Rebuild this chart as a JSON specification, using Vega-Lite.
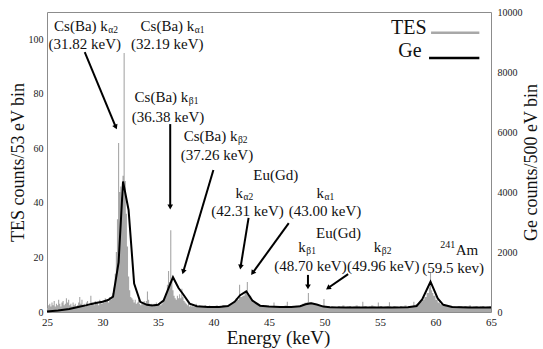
{
  "$schema": "https://vega.github.io/schema/vega-lite/v6.json",
  "width": 444,
  "height": 300,
  "autosize": {"type": "none"},
  "padding": {"left": 47, "top": 12, "right": 52, "bottom": 37},
  "background": "white",
  "config": {
    "font": "Liberation Serif",
    "view": {"stroke": "#8c8c8c", "strokeWidth": 1},
    "axis": {"grid": false, "domain": false, "ticks": false, "labelColor": "#1a1a1a", "titleColor": "#111111", "titleFontWeight": "normal", "labelFlush": false, "labelFont": "Liberation Serif", "titleFont": "Liberation Serif"},
    "text": {"font": "Liberation Serif", "color": "#111111"}
  },
  "datasets": {
    "tes": [
      {"e":25.0,"v":1.5},{"e":25.1,"v":2.5},{"e":25.2,"v":3.0},{"e":25.3,"v":2.0},{"e":25.4,"v":3.5},{"e":25.5,"v":2.5},{"e":25.6,"v":4.0},{"e":25.7,"v":2.0},{"e":25.8,"v":3.0},{"e":25.9,"v":2.5},
      {"e":26.0,"v":4.5},{"e":26.1,"v":3.0},{"e":26.2,"v":2.0},{"e":26.3,"v":3.5},{"e":26.4,"v":4.0},{"e":26.5,"v":2.5},{"e":26.6,"v":3.0},{"e":26.7,"v":5.0},{"e":26.8,"v":3.5},{"e":26.9,"v":4.5},
      {"e":27.0,"v":2.5},{"e":27.1,"v":3.0},{"e":27.2,"v":2.0},{"e":27.3,"v":3.5},{"e":27.4,"v":2.5},{"e":27.5,"v":3.0},{"e":27.6,"v":2.0},{"e":27.7,"v":2.5},{"e":27.8,"v":3.5},{"e":27.9,"v":5.5},
      {"e":28.0,"v":3.0},{"e":28.1,"v":4.5},{"e":28.2,"v":2.5},{"e":28.3,"v":3.0},{"e":28.4,"v":2.0},{"e":28.5,"v":3.5},{"e":28.6,"v":4.0},{"e":28.7,"v":2.5},{"e":28.8,"v":3.0},{"e":28.9,"v":6.0},
      {"e":29.0,"v":3.5},{"e":29.1,"v":3.0},{"e":29.2,"v":2.5},{"e":29.3,"v":4.0},{"e":29.4,"v":3.0},{"e":29.5,"v":3.5},{"e":29.6,"v":2.5},{"e":29.7,"v":4.5},{"e":29.8,"v":3.5},{"e":29.9,"v":3.0},
      {"e":30.0,"v":4.0},{"e":30.1,"v":3.5},{"e":30.2,"v":5.0},{"e":30.3,"v":4.0},{"e":30.4,"v":4.5},{"e":30.5,"v":3.5},{"e":30.6,"v":5.5},{"e":30.7,"v":4.5},{"e":30.8,"v":6.0},{"e":30.9,"v":7.0},
      {"e":31.0,"v":9},{"e":31.1,"v":14},{"e":31.2,"v":22},{"e":31.3,"v":34},{"e":31.4,"v":62},{"e":31.5,"v":44},{"e":31.6,"v":46},{"e":31.7,"v":42},{"e":31.8,"v":50},{"e":31.9,"v":95},
      {"e":32.0,"v":48},{"e":32.1,"v":36},{"e":32.2,"v":24},{"e":32.3,"v":13},{"e":32.4,"v":8},{"e":32.5,"v":5.5},{"e":32.6,"v":5},{"e":32.7,"v":4.5},{"e":32.8,"v":3.5},{"e":32.9,"v":4.5},
      {"e":33.0,"v":3.0},{"e":33.1,"v":3.5},{"e":33.2,"v":4.5},{"e":33.3,"v":3.0},{"e":33.4,"v":2.5},{"e":33.5,"v":3.5},{"e":33.6,"v":3.0},{"e":33.7,"v":4.0},{"e":33.8,"v":3.0},{"e":33.9,"v":4.0},
      {"e":34.0,"v":7.5},{"e":34.1,"v":4.5},{"e":34.2,"v":3.0},{"e":34.3,"v":2.5},{"e":34.4,"v":3.0},{"e":34.5,"v":2.0},{"e":34.6,"v":3.0},{"e":34.7,"v":2.5},{"e":34.8,"v":3.5},{"e":34.9,"v":2.5},
      {"e":35.0,"v":3.0},{"e":35.1,"v":3.5},{"e":35.2,"v":2.5},{"e":35.3,"v":3.0},{"e":35.4,"v":4.0},{"e":35.5,"v":4.5},{"e":35.6,"v":5.5},{"e":35.7,"v":7},{"e":35.8,"v":10},{"e":35.9,"v":15},
      {"e":36.0,"v":11},{"e":36.1,"v":30},{"e":36.2,"v":12},{"e":36.3,"v":8},{"e":36.4,"v":6},{"e":36.5,"v":5},{"e":36.6,"v":4.5},{"e":36.7,"v":6},{"e":36.8,"v":5},{"e":36.9,"v":6.5},
      {"e":37.0,"v":5},{"e":37.1,"v":8.5},{"e":37.2,"v":5.5},{"e":37.3,"v":4},{"e":37.4,"v":3.5},{"e":37.5,"v":3},{"e":37.6,"v":2.5},{"e":37.7,"v":3},{"e":37.8,"v":2},{"e":37.9,"v":2.5},
      {"e":38.0,"v":2},{"e":38.1,"v":2.5},{"e":38.2,"v":1.8},{"e":38.3,"v":2.2},{"e":38.4,"v":3},{"e":38.5,"v":2},{"e":38.6,"v":1.8},{"e":38.7,"v":2.5},{"e":38.8,"v":2},{"e":38.9,"v":1.8},
      {"e":39.0,"v":2.2},{"e":39.1,"v":2},{"e":39.2,"v":2.6},{"e":39.3,"v":1.8},{"e":39.4,"v":2.2},{"e":39.5,"v":1.8},{"e":39.6,"v":2.4},{"e":39.7,"v":2},{"e":39.8,"v":1.8},{"e":39.9,"v":2.2},
      {"e":40.0,"v":2.0},{"e":40.2,"v":2.4},{"e":40.4,"v":1.8},{"e":40.6,"v":2.2},{"e":40.8,"v":2.6},{"e":41.0,"v":2.0},{"e":41.2,"v":2.4},{"e":41.4,"v":2.8},{"e":41.6,"v":3.2},{"e":41.8,"v":4.0},
      {"e":42.0,"v":5.0},{"e":42.2,"v":4.5},{"e":42.3,"v":10},{"e":42.4,"v":5.5},{"e":42.6,"v":6},{"e":42.8,"v":7},{"e":43.0,"v":11},{"e":43.1,"v":7},{"e":43.2,"v":6},{"e":43.4,"v":4.5},
      {"e":43.6,"v":3.5},{"e":43.8,"v":3},{"e":44.0,"v":2.5},{"e":44.2,"v":2.2},{"e":44.4,"v":2.0},{"e":44.6,"v":2.4},{"e":44.8,"v":1.8},{"e":45.0,"v":2.2},{"e":45.2,"v":2.0},{"e":45.4,"v":3.5},
      {"e":45.5,"v":2.2},{"e":45.6,"v":2.0},{"e":45.8,"v":1.8},{"e":46.0,"v":2.2},{"e":46.2,"v":2.0},{"e":46.4,"v":2.4},{"e":46.6,"v":3.8},{"e":46.7,"v":2.2},{"e":46.8,"v":2.0},{"e":47.0,"v":1.8},
      {"e":47.2,"v":2.2},{"e":47.4,"v":2.0},{"e":47.6,"v":2.4},{"e":47.8,"v":2.6},{"e":48.0,"v":3.0},{"e":48.2,"v":3.4},{"e":48.4,"v":3.6},{"e":48.5,"v":7},{"e":48.6,"v":3.6},{"e":48.8,"v":3.4},
      {"e":49.0,"v":3.0},{"e":49.2,"v":2.6},{"e":49.4,"v":2.4},{"e":49.6,"v":2.2},{"e":49.8,"v":2.4},{"e":49.9,"v":4.8},{"e":50.0,"v":2.2},{"e":50.2,"v":2.0},{"e":50.4,"v":1.8},{"e":50.6,"v":2.2},
      {"e":50.8,"v":2.0},{"e":51.0,"v":1.8},{"e":51.2,"v":2.2},{"e":51.4,"v":2.0},{"e":51.6,"v":2.4},{"e":51.8,"v":1.8},{"e":52.0,"v":2.0},{"e":52.2,"v":2.2},{"e":52.4,"v":1.8},{"e":52.6,"v":2.0},
      {"e":52.8,"v":2.4},{"e":53.0,"v":2.0},{"e":53.2,"v":1.8},{"e":53.4,"v":3.8},{"e":53.5,"v":2.0},{"e":53.6,"v":2.2},{"e":53.8,"v":1.8},{"e":54.0,"v":2.0},{"e":54.2,"v":2.4},{"e":54.4,"v":2.0},
      {"e":54.6,"v":1.8},{"e":54.8,"v":3.5},{"e":54.9,"v":2.0},{"e":55.0,"v":2.2},{"e":55.2,"v":1.8},{"e":55.4,"v":2.0},{"e":55.6,"v":2.2},{"e":55.8,"v":3.6},{"e":55.9,"v":2.0},{"e":56.0,"v":1.8},
      {"e":56.2,"v":2.2},{"e":56.4,"v":2.0},{"e":56.6,"v":1.8},{"e":56.8,"v":2.2},{"e":57.0,"v":2.0},{"e":57.2,"v":2.4},{"e":57.4,"v":1.8},{"e":57.6,"v":2.2},{"e":57.8,"v":2.0},{"e":58.0,"v":3.8},
      {"e":58.1,"v":2.4},{"e":58.2,"v":2.8},{"e":58.4,"v":3.2},{"e":58.6,"v":3.8},{"e":58.8,"v":4.5},{"e":59.0,"v":5.5},{"e":59.2,"v":7},{"e":59.4,"v":9},{"e":59.5,"v":14.5},{"e":59.6,"v":8},
      {"e":59.7,"v":7},{"e":59.8,"v":6},{"e":60.0,"v":4.5},{"e":60.2,"v":3.5},{"e":60.4,"v":2.8},{"e":60.6,"v":2.4},{"e":60.8,"v":2.2},{"e":61.0,"v":2.0},{"e":61.2,"v":1.8},{"e":61.4,"v":2.2},
      {"e":61.6,"v":2.0},{"e":61.8,"v":1.8},{"e":62.0,"v":2.2},{"e":62.2,"v":2.0},{"e":62.4,"v":1.8},{"e":62.6,"v":2.2},{"e":62.8,"v":2.0},{"e":63.0,"v":2.4},{"e":63.2,"v":1.8},{"e":63.4,"v":2.0},
      {"e":63.6,"v":2.2},{"e":63.8,"v":1.8},{"e":64.0,"v":2.0},{"e":64.2,"v":2.2},{"e":64.4,"v":1.8},{"e":64.6,"v":2.0},{"e":64.8,"v":2.2},{"e":65.0,"v":2.0}
    ],
    "ge": [
      {"e":25.0,"g":20},{"e":26.0,"g":50},{"e":27.0,"g":100},{"e":28.0,"g":180},{"e":28.5,"g":220},{"e":29.0,"g":270},{"e":29.5,"g":310},{"e":30.0,"g":340},{"e":30.5,"g":400},{"e":30.95,"g":510},
      {"e":31.45,"g":1650},{"e":31.85,"g":4350},{"e":32.35,"g":3400},{"e":32.85,"g":950},{"e":33.4,"g":340},{"e":34.0,"g":240},{"e":34.5,"g":220},{"e":35.0,"g":240},{"e":35.5,"g":380},{"e":36.35,"g":1160},
      {"e":36.85,"g":800},{"e":37.25,"g":600},{"e":37.85,"g":280},{"e":38.5,"g":190},{"e":39.5,"g":170},{"e":40.5,"g":170},{"e":41.3,"g":200},{"e":41.9,"g":340},{"e":42.4,"g":560},{"e":42.95,"g":690},
      {"e":43.5,"g":380},{"e":44.2,"g":210},{"e":45.0,"g":180},{"e":46.0,"g":170},{"e":47.0,"g":170},{"e":47.8,"g":190},{"e":48.3,"g":260},{"e":48.8,"g":290},{"e":49.3,"g":250},{"e":49.9,"g":180},
      {"e":50.5,"g":160},{"e":52.0,"g":150},{"e":54.0,"g":150},{"e":56.0,"g":150},{"e":57.5,"g":160},{"e":58.3,"g":200},{"e":58.8,"g":420},{"e":59.55,"g":1010},{"e":60.2,"g":450},{"e":60.7,"g":240},
      {"e":61.5,"g":170},{"e":63.0,"g":150},{"e":65.0,"g":150}
    ],
    "caps": [
      {"e":28.40,"v":98.3,"t":"(31.82 keV)"},
      {"e":35.83,"v":98.3,"t":"(32.19 keV)"},
      {"e":35.91,"v":71.4,"t":"(36.38 keV)"},
      {"e":40.31,"v":57.4,"t":"(37.26 keV)"},
      {"e":45.61,"v":50.2,"t":"Eu(Gd)"},
      {"e":43.07,"v":37.2,"t":"(42.31 keV)"},
      {"e":50.05,"v":37.2,"t":"(43.00 keV)"},
      {"e":51.27,"v":29.0,"t":"Eu(Gd)"},
      {"e":48.73,"v":17.0,"t":"(48.70 keV)"},
      {"e":55.30,"v":17.0,"t":"(49.96 keV)"},
      {"e":61.59,"v":16.1,"t":"(59.5 kev)"}
    ],
    "klines": [
      {"e":30.48,"v":104.8,"t":"Cs(Ba) k","s":"α2"},
      {"e":38.27,"v":104.8,"t":"Cs(Ba) k","s":"α1"},
      {"e":37.73,"v":78.8,"t":"Cs(Ba) k","s":"β1"},
      {"e":42.16,"v":64.5,"t":"Cs(Ba) k","s":"β2"},
      {"e":42.66,"v":43.8,"t":"k","s":"α2"},
      {"e":49.95,"v":43.8,"t":"k","s":"α1"},
      {"e":48.32,"v":24.0,"t":"k","s":"β1"},
      {"e":55.12,"v":24.0,"t":"k","s":"β2"}
    ],
    "iso": [
      {"e":61.82,"v":22.7,"t":"Am","s":"241"}
    ],
    "arrows": [
      {"e":31.20,"v":67.8,"e0":28.40,"v0":95.3},
      {"e":36.10,"v":38.5,"e0":36.10,"v0":68.9},
      {"e":37.27,"v":14.7,"e0":39.99,"v0":52.1},
      {"e":42.44,"v":16.5,"e0":43.16,"v0":34.5},
      {"e":43.52,"v":14.3,"e0":46.78,"v0":32.6},
      {"e":48.51,"v":9.2,"e0":48.51,"v0":13.6},
      {"e":50.32,"v":8.8,"e0":52.13,"v0":13.9}
    ],
    "legline": [
      {"series":"TES","e":59.6,"e0":63.95,"v":102.4},
      {"series":"Ge","e":59.42,"e0":63.95,"v":93.1}
    ],
    "legtext": [
      {"series":"TES","e":59.19,"v":104.0},
      {"series":"Ge","e":58.74,"v":95.6}
    ]
  },
  "encoding": {
    "x": {
      "field": "e", "type": "quantitative",
      "scale": {"domain": [25, 65], "nice": false, "zero": false},
      "axis": {"values": [25,30,35,40,45,50,55,60,65], "title": "Energy (keV)", "titleFontSize": 19, "labelFontSize": 11, "labelPadding": 4, "titlePadding": 1, "titleX": 231}
    }
  },
  "layer": [
    {
      "encoding": {
        "y": {
          "field": "v", "type": "quantitative",
          "scale": {"domain": [0, 110], "nice": false, "zero": true},
          "axis": {"values": [0,20,40,60,80,100], "title": "TES counts/53 eV bin", "titleFontSize": 18, "labelFontSize": 10, "labelPadding": 4, "titlePadding": 1}
        }
      },
      "layer": [
        {"data": {"name": "tes"}, "mark": {"type": "area", "interpolate": "step-after", "color": "#a8a8a8"}},
        {"data": {"name": "arrows"}, "mark": {"type": "rule", "color": "#000000", "strokeWidth": 2},
          "encoding": {"x2": {"field": "e0"}, "y2": {"field": "v0"}}},
        {"data": {"name": "arrows"},
          "transform": [{"calculate": "atan2((datum.e-datum.e0)*11.04, (datum.v-datum.v0)*2.727)*180/PI", "as": "ang"}],
          "mark": {"type": "point", "shape": "triangle-up", "filled": true, "color": "#000000", "size": 32, "opacity": 1},
          "encoding": {"angle": {"field": "ang", "type": "quantitative", "scale": null}}},
        {"data": {"name": "caps"}, "mark": {"type": "text", "fontSize": 15, "align": "center", "baseline": "middle"},
          "encoding": {"text": {"field": "t"}}},
        {"data": {"name": "klines"}, "mark": {"type": "text", "fontSize": 15, "align": "right", "baseline": "middle"},
          "encoding": {"text": {"field": "t"}}},
        {"data": {"name": "klines"}, "mark": {"type": "text", "fontSize": 9.5, "align": "left", "baseline": "middle", "dy": 4, "dx": 0.5},
          "encoding": {"text": {"field": "s"}}},
        {"data": {"name": "iso"}, "mark": {"type": "text", "fontSize": 15, "align": "left", "baseline": "middle"},
          "encoding": {"text": {"field": "t"}}},
        {"data": {"name": "iso"}, "mark": {"type": "text", "fontSize": 10, "align": "right", "baseline": "middle", "dy": -5, "dx": -0.5},
          "encoding": {"text": {"field": "s"}}},
        {"data": {"name": "legline"}, "mark": {"type": "rule", "strokeWidth": 2.5},
          "encoding": {"x2": {"field": "e0"}, "color": {"field": "series", "type": "nominal", "scale": {"domain": ["TES","Ge"], "range": ["#a8a8a8","#000000"]}, "legend": null}}},
        {"data": {"name": "legtext"}, "mark": {"type": "text", "fontSize": 20, "align": "right", "baseline": "middle"},
          "encoding": {"text": {"field": "series"}}}
      ]
    },
    {
      "data": {"name": "ge"},
      "mark": {"type": "line", "color": "#000000", "strokeWidth": 2},
      "encoding": {
        "y": {
          "field": "g", "type": "quantitative",
          "scale": {"domain": [0, 10000], "nice": false},
          "axis": {"orient": "right", "values": [0,2000,4000,6000,8000,10000], "format": "d", "title": "Ge counts/500 eV bin", "titleFontSize": 18, "labelFontSize": 10, "labelPadding": 6, "titlePadding": 0, "titleAngle": 270, "titleBaseline": "top"}
        }
      }
    }
  ],
  "resolve": {"scale": {"y": "independent"}}
}
